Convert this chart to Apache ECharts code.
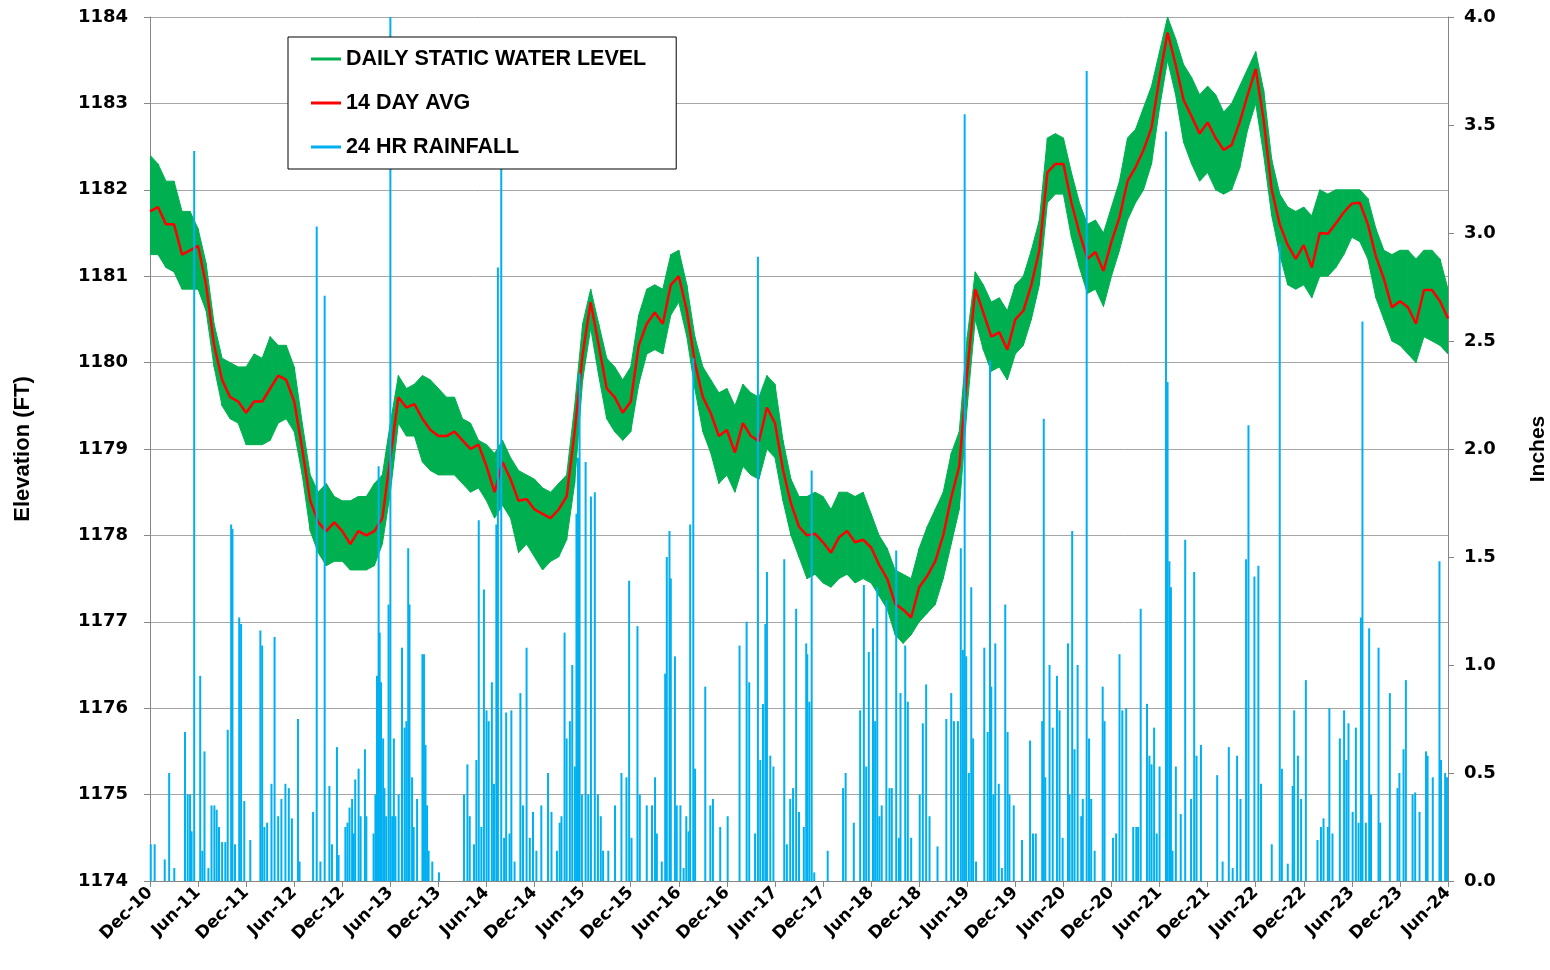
<!DOCTYPE html>
<html>
<head>
<meta charset="utf-8">
<script src="https://cdn.jsdelivr.net/npm/echarts@6/dist/echarts.min.js"></script>
<style>
  html, body { margin: 0; background: #fff; }
  #chart { width: 1550px; height: 970px; }
</style>
</head>
<body>
<div id="chart"></div>
<script>
// tick labels of the time axis, one every 6 months
const xTickLabels = [
  'Dec-10', 'Jun-11', 'Dec-11', 'Jun-12', 'Dec-12', 'Jun-13', 'Dec-13', 'Jun-14',
  'Dec-14', 'Jun-15', 'Dec-15', 'Jun-16', 'Dec-16', 'Jun-17', 'Dec-17', 'Jun-18',
  'Dec-18', 'Jun-19', 'Dec-19', 'Jun-20', 'Dec-20', 'Jun-21', 'Dec-21', 'Jun-22',
  'Dec-22', 'Jun-23', 'Dec-23', 'Jun-24'
];

// monthly readings, index 0 = Dec 2010 ... index 162 = Jun 2024
const avg14 = [
  1181.75,
  1181.8, 1181.6, 1181.6, 1181.25, 1181.3, 1181.35, 1180.9, 1180.2, 1179.8, 1179.6, 1179.55, 1179.42,
  1179.55, 1179.55, 1179.7, 1179.85, 1179.8, 1179.55, 1179.0, 1178.4, 1178.15, 1178.05, 1178.15, 1178.05,
  1177.9, 1178.05, 1178.0, 1178.05, 1178.2, 1178.9, 1179.6, 1179.48, 1179.52, 1179.35, 1179.22, 1179.15,
  1179.15, 1179.2, 1179.1, 1179.0, 1179.05, 1178.8, 1178.5, 1178.85, 1178.65, 1178.4, 1178.42, 1178.3,
  1178.25, 1178.2, 1178.3, 1178.45, 1179.2, 1180.1, 1180.7, 1180.2, 1179.7, 1179.6, 1179.42, 1179.55,
  1180.2, 1180.45, 1180.58, 1180.45, 1180.9, 1181.0, 1180.6, 1180.0, 1179.6, 1179.41, 1179.15, 1179.22,
  1178.96, 1179.3, 1179.15, 1179.09, 1179.48, 1179.3, 1178.76, 1178.37, 1178.1, 1178.0, 1178.02, 1177.92,
  1177.8, 1177.98, 1178.05, 1177.92, 1177.95, 1177.86, 1177.66, 1177.5, 1177.21, 1177.14, 1177.05, 1177.4,
  1177.53, 1177.7, 1178.0, 1178.44, 1178.8, 1179.9, 1180.85, 1180.58, 1180.3, 1180.35, 1180.15, 1180.5,
  1180.6, 1180.9, 1181.3, 1182.2, 1182.3, 1182.3, 1181.85, 1181.5, 1181.2, 1181.28, 1181.06, 1181.4,
  1181.68, 1182.1, 1182.26, 1182.46, 1182.72, 1183.3, 1183.82, 1183.45, 1183.04, 1182.85, 1182.65, 1182.78,
  1182.6, 1182.46, 1182.52, 1182.78, 1183.1, 1183.4, 1182.8, 1182.0, 1181.6, 1181.36, 1181.2, 1181.36,
  1181.1, 1181.5, 1181.49, 1181.61, 1181.74, 1181.84, 1181.85, 1181.6, 1181.23, 1180.97, 1180.64, 1180.71,
  1180.64, 1180.45, 1180.84, 1180.84, 1180.71, 1180.51
];

// top and bottom of the daily level scatter in each month
const dailyHigh = [
  1182.4,
  1182.3, 1182.1, 1182.1, 1181.75, 1181.75, 1181.55, 1181.15, 1180.45, 1180.05, 1180.0, 1179.95, 1179.95,
  1180.1, 1180.05, 1180.3, 1180.2, 1180.2, 1179.95, 1179.3, 1178.7, 1178.5, 1178.6, 1178.45, 1178.4,
  1178.4, 1178.45, 1178.45, 1178.6, 1178.7, 1179.3, 1179.85, 1179.7, 1179.75, 1179.85, 1179.8, 1179.7,
  1179.6, 1179.6, 1179.35, 1179.3, 1179.1, 1179.05, 1178.95, 1179.1, 1178.9, 1178.75, 1178.7, 1178.65,
  1178.55, 1178.5, 1178.6, 1178.7, 1179.5, 1180.45, 1180.85, 1180.45, 1180.05, 1179.95, 1179.8, 1179.95,
  1180.55, 1180.85, 1180.9, 1180.85, 1181.25, 1181.3, 1180.9, 1180.3, 1179.95, 1179.8, 1179.65, 1179.7,
  1179.5, 1179.75, 1179.65, 1179.6, 1179.85, 1179.75, 1179.1, 1178.65, 1178.45, 1178.45, 1178.5, 1178.45,
  1178.3, 1178.5, 1178.5, 1178.45, 1178.5, 1178.25, 1178.0, 1177.85, 1177.6, 1177.55, 1177.5, 1177.85,
  1178.1, 1178.3, 1178.5, 1178.95, 1179.2, 1180.3, 1181.05, 1180.9, 1180.7, 1180.75, 1180.6, 1180.9,
  1181.0, 1181.3, 1181.65, 1182.6, 1182.65, 1182.6, 1182.2, 1181.85, 1181.6, 1181.65, 1181.5, 1181.8,
  1182.1, 1182.6, 1182.7, 1182.95, 1183.2, 1183.6, 1184.0, 1183.75, 1183.45, 1183.3, 1183.1, 1183.2,
  1183.1, 1182.9, 1183.0, 1183.2, 1183.4, 1183.6, 1183.15, 1182.35, 1181.95, 1181.8, 1181.75, 1181.8,
  1181.7, 1182.0, 1181.95, 1182.0, 1182.0, 1182.0, 1182.0, 1181.9, 1181.55, 1181.3, 1181.25, 1181.3,
  1181.3, 1181.2, 1181.3, 1181.3, 1181.2, 1180.85
];
const dailyLow = [
  1181.25,
  1181.25, 1181.1, 1181.05, 1180.85, 1180.85, 1180.85, 1180.6, 1179.95, 1179.5, 1179.35, 1179.3, 1179.05,
  1179.05, 1179.05, 1179.1, 1179.3, 1179.35, 1179.2, 1178.7, 1178.05, 1177.8, 1177.65, 1177.7, 1177.7,
  1177.6, 1177.6, 1177.6, 1177.65, 1177.9, 1178.5, 1179.3, 1179.15, 1179.15, 1178.85, 1178.75, 1178.7,
  1178.7, 1178.7, 1178.6, 1178.5, 1178.55, 1178.4, 1178.2, 1178.35, 1178.2, 1177.8, 1177.9, 1177.75,
  1177.6, 1177.7, 1177.75, 1177.95, 1178.6, 1179.8, 1180.4, 1179.85, 1179.35, 1179.2, 1179.1, 1179.2,
  1179.75, 1180.1, 1180.15, 1180.1, 1180.55, 1180.7, 1180.3, 1179.7, 1179.2, 1178.95, 1178.6, 1178.7,
  1178.5, 1178.8, 1178.7, 1178.65, 1179.0, 1178.9, 1178.4, 1178.0, 1177.75, 1177.5, 1177.55, 1177.45,
  1177.4, 1177.5, 1177.55, 1177.45, 1177.5, 1177.45, 1177.3, 1177.15, 1176.85, 1176.75, 1176.85, 1177.0,
  1177.1, 1177.2, 1177.5, 1177.9, 1178.3, 1179.5, 1180.5, 1180.15, 1179.9, 1179.95, 1179.8, 1180.1,
  1180.2, 1180.5, 1180.9, 1181.85, 1181.95, 1181.95, 1181.45, 1181.1, 1180.8, 1180.85, 1180.65, 1181.0,
  1181.3, 1181.65, 1181.85, 1182.0, 1182.3, 1182.95, 1183.5, 1183.1, 1182.55, 1182.3, 1182.1, 1182.2,
  1182.0, 1181.95, 1182.0, 1182.25, 1182.7, 1183.0, 1182.4, 1181.7, 1181.25, 1180.9, 1180.85, 1180.9,
  1180.75, 1181.0, 1181.0, 1181.1, 1181.25, 1181.45, 1181.4, 1181.2, 1180.75, 1180.5, 1180.25, 1180.2,
  1180.1, 1180.0, 1180.3, 1180.25, 1180.2, 1180.1
];

// 24 hour rainfall events (inches)
const rain = [
  ['2010-12-04', 0.17], ['2010-12-19', 0.17], ['2011-01-27', 0.10], ['2011-02-12', 0.50], ['2011-03-02', 0.06],
  ['2011-04-12', 0.69], ['2011-04-22', 0.40], ['2011-05-01', 0.40], ['2011-05-07', 0.23], ['2011-05-17', 3.38],
  ['2011-06-09', 0.95], ['2011-06-17', 0.14], ['2011-06-25', 0.60], ['2011-07-10', 0.06], ['2011-07-22', 0.35],
  ['2011-08-02', 0.35], ['2011-08-11', 0.33], ['2011-08-20', 0.25], ['2011-09-01', 0.18], ['2011-09-13', 0.18],
  ['2011-09-22', 0.70], ['2011-10-05', 1.65], ['2011-10-10', 1.63], ['2011-10-20', 0.17], ['2011-11-05', 1.22],
  ['2011-11-12', 1.19], ['2011-11-24', 0.37], ['2011-12-17', 0.19], ['2012-01-25', 1.16], ['2012-02-01', 1.09],
  ['2012-02-09', 0.25], ['2012-02-19', 0.27], ['2012-03-06', 0.45], ['2012-03-18', 1.13], ['2012-04-01', 0.30],
  ['2012-04-13', 0.38], ['2012-04-28', 0.45], ['2012-05-11', 0.43], ['2012-05-23', 0.29], ['2012-06-15', 0.75],
  ['2012-06-21', 0.09], ['2012-08-12', 0.32], ['2012-08-26', 3.03], ['2012-09-09', 0.09], ['2012-09-25', 2.71],
  ['2012-10-13', 0.44], ['2012-10-23', 0.17], ['2012-11-11', 0.62], ['2012-11-17', 0.12], ['2012-12-13', 0.25],
  ['2012-12-21', 0.27], ['2012-12-29', 0.34], ['2013-01-08', 0.38], ['2013-01-14', 0.22], ['2013-01-20', 0.47],
  ['2013-02-02', 0.52], ['2013-02-09', 0.30], ['2013-02-24', 0.61], ['2013-03-01', 0.30], ['2013-03-29', 0.22],
  ['2013-04-05', 0.40], ['2013-04-11', 0.95], ['2013-04-17', 1.92], ['2013-04-21', 1.15], ['2013-04-26', 0.92],
  ['2013-05-04', 0.66], ['2013-05-09', 0.43], ['2013-05-16', 0.30], ['2013-05-25', 1.28], ['2013-06-01', 4.00],
  ['2013-06-08', 0.30], ['2013-06-14', 0.66], ['2013-06-20', 0.30], ['2013-07-02', 0.40], ['2013-07-15', 1.08],
  ['2013-07-25', 0.71], ['2013-08-01', 0.74], ['2013-08-08', 1.54], ['2013-08-13', 1.28], ['2013-08-23', 0.48],
  ['2013-08-29', 0.25], ['2013-09-11', 0.38], ['2013-10-01', 1.05], ['2013-10-07', 1.05], ['2013-10-13', 0.63],
  ['2013-10-19', 0.35], ['2013-10-25', 0.14], ['2013-11-08', 0.09], ['2013-12-03', 0.04], ['2014-03-07', 0.40],
  ['2014-03-20', 0.54], ['2014-03-29', 0.30], ['2014-04-14', 0.17], ['2014-04-23', 0.56], ['2014-05-02', 1.67],
  ['2014-05-12', 0.25], ['2014-05-22', 1.35], ['2014-06-01', 0.79], ['2014-06-09', 0.74], ['2014-06-21', 0.92],
  ['2014-06-29', 0.45], ['2014-07-08', 1.65], ['2014-07-14', 2.84], ['2014-07-27', 3.50], ['2014-08-07', 0.20],
  ['2014-08-15', 0.78], ['2014-08-28', 0.22], ['2014-09-04', 0.79], ['2014-09-16', 0.09], ['2014-10-08', 0.87],
  ['2014-10-18', 0.35], ['2014-11-01', 1.08], ['2014-11-13', 0.20], ['2014-11-25', 0.32], ['2014-12-08', 0.14],
  ['2014-12-27', 0.35], ['2015-01-22', 0.50], ['2015-02-04', 0.32], ['2015-02-23', 0.14], ['2015-03-05', 0.27],
  ['2015-03-12', 0.30], ['2015-03-24', 1.15], ['2015-04-01', 0.66], ['2015-04-13', 0.74], ['2015-04-22', 1.00],
  ['2015-05-02', 0.53], ['2015-05-08', 1.70], ['2015-05-14', 1.96], ['2015-05-20', 2.35], ['2015-05-29', 0.40],
  ['2015-06-12', 1.94], ['2015-06-22', 0.40], ['2015-07-02', 1.78], ['2015-07-17', 1.80], ['2015-07-29', 0.40],
  ['2015-08-09', 0.30], ['2015-08-18', 0.14], ['2015-09-07', 0.14], ['2015-10-02', 0.35], ['2015-10-27', 0.50],
  ['2015-11-15', 0.48], ['2015-11-25', 1.39], ['2015-12-04', 0.20], ['2015-12-27', 1.18], ['2016-01-05', 0.40],
  ['2016-02-01', 0.35], ['2016-02-20', 0.35], ['2016-03-02', 0.48], ['2016-03-09', 0.22], ['2016-03-28', 0.09],
  ['2016-04-10', 0.96], ['2016-04-16', 1.50], ['2016-04-26', 1.62], ['2016-05-01', 1.40], ['2016-05-17', 1.04],
  ['2016-05-24', 0.35], ['2016-06-07', 0.35], ['2016-06-19', 0.06], ['2016-06-29', 0.30], ['2016-07-08', 0.23],
  ['2016-07-14', 1.65], ['2016-07-26', 2.42], ['2016-08-02', 0.52], ['2016-09-10', 0.90], ['2016-09-29', 0.35],
  ['2016-10-09', 0.38], ['2016-11-06', 0.25], ['2016-12-04', 0.30], ['2017-01-19', 1.09], ['2017-02-14', 1.20],
  ['2017-02-23', 0.92], ['2017-03-17', 0.22], ['2017-03-28', 2.89], ['2017-04-06', 0.56], ['2017-04-16', 0.82],
  ['2017-04-25', 1.19], ['2017-05-01', 1.43], ['2017-05-14', 0.58], ['2017-05-26', 0.53], ['2017-07-06', 1.49],
  ['2017-07-16', 0.17], ['2017-07-29', 0.38], ['2017-08-09', 0.43], ['2017-08-21', 1.26], ['2017-09-01', 0.32],
  ['2017-09-19', 0.25], ['2017-09-28', 1.10], ['2017-10-02', 1.05], ['2017-10-10', 0.83], ['2017-10-19', 1.90],
  ['2017-10-29', 0.04], ['2017-12-19', 0.14], ['2018-02-15', 0.43], ['2018-02-24', 0.50], ['2018-03-27', 0.27],
  ['2018-04-20', 0.79], ['2018-05-04', 1.37], ['2018-05-13', 0.53], ['2018-05-23', 1.06], ['2018-06-08', 1.17],
  ['2018-06-16', 0.74], ['2018-06-24', 1.36], ['2018-07-02', 0.30], ['2018-07-11', 0.35], ['2018-07-29', 1.30],
  ['2018-08-10', 0.43], ['2018-08-19', 0.43], ['2018-09-05', 1.53], ['2018-09-15', 0.20], ['2018-09-21', 0.87],
  ['2018-10-09', 1.09], ['2018-10-19', 0.83], ['2018-11-01', 0.20], ['2018-12-03', 0.40], ['2018-12-15', 0.73],
  ['2018-12-28', 0.91], ['2019-01-10', 0.30], ['2019-02-09', 0.16], ['2019-03-13', 0.75], ['2019-04-01', 0.87],
  ['2019-04-11', 0.74], ['2019-04-26', 0.74], ['2019-05-07', 1.54], ['2019-05-15', 1.07], ['2019-05-22', 3.55],
  ['2019-05-28', 1.04], ['2019-06-07', 0.50], ['2019-06-16', 1.36], ['2019-06-23', 0.66], ['2019-07-04', 0.09],
  ['2019-08-05', 1.08], ['2019-08-18', 0.69], ['2019-08-27', 2.41], ['2019-09-01', 0.90], ['2019-09-09', 0.40],
  ['2019-09-16', 1.10], ['2019-09-29', 0.45], ['2019-10-11', 0.06], ['2019-10-24', 1.28], ['2019-11-02', 0.69],
  ['2019-11-09', 0.40], ['2019-11-25', 0.35], ['2019-12-27', 0.19], ['2020-01-27', 0.65], ['2020-02-07', 0.22],
  ['2020-02-17', 0.22], ['2020-03-12', 0.74], ['2020-03-18', 2.14], ['2020-03-24', 0.48], ['2020-04-09', 1.00],
  ['2020-04-21', 0.71], ['2020-05-07', 0.95], ['2020-05-17', 0.79], ['2020-05-29', 0.20], ['2020-06-18', 1.10],
  ['2020-06-24', 0.40], ['2020-07-04', 1.62], ['2020-07-13', 0.61], ['2020-07-25', 1.00], ['2020-08-08', 0.30],
  ['2020-08-14', 0.38], ['2020-08-29', 3.75], ['2020-09-07', 0.66], ['2020-09-15', 0.38], ['2020-09-28', 0.14],
  ['2020-10-29', 0.90], ['2020-11-05', 0.74], ['2020-12-07', 0.20], ['2020-12-19', 0.22], ['2021-01-01', 1.05],
  ['2021-01-12', 0.79], ['2021-01-27', 0.80], ['2021-02-21', 0.25], ['2021-03-04', 0.25], ['2021-03-11', 0.25],
  ['2021-03-21', 1.26], ['2021-04-14', 0.82], ['2021-04-23', 0.58], ['2021-05-01', 0.54], ['2021-05-11', 0.71],
  ['2021-05-21', 0.22], ['2021-06-01', 0.53], ['2021-06-25', 3.47], ['2021-07-01', 2.31], ['2021-07-08', 1.48],
  ['2021-07-14', 1.36], ['2021-07-20', 0.14], ['2021-08-02', 0.53], ['2021-08-21', 0.31], ['2021-09-07', 1.58],
  ['2021-09-29', 0.38], ['2021-10-11', 1.43], ['2021-10-20', 0.58], ['2021-11-06', 0.63], ['2022-01-07', 0.49],
  ['2022-01-28', 0.09], ['2022-02-19', 0.62], ['2022-03-05', 0.06], ['2022-03-22', 0.58], ['2022-04-04', 0.38],
  ['2022-04-25', 1.49], ['2022-05-04', 2.11], ['2022-05-27', 1.41], ['2022-06-11', 1.46], ['2022-06-21', 0.45],
  ['2022-08-01', 0.17], ['2022-09-01', 2.95], ['2022-09-09', 0.52], ['2022-10-01', 0.08], ['2022-10-20', 0.44],
  ['2022-10-26', 0.79], ['2022-11-09', 0.58], ['2022-11-21', 0.38], ['2022-12-09', 0.93], ['2023-01-23', 0.19],
  ['2023-02-05', 0.25], ['2023-02-14', 0.29], ['2023-03-01', 0.25], ['2023-03-07', 0.80], ['2023-03-19', 0.22],
  ['2023-04-16', 0.66], ['2023-05-02', 0.79], ['2023-05-11', 0.56], ['2023-05-19', 0.73], ['2023-06-04', 0.32],
  ['2023-06-16', 0.71], ['2023-06-26', 0.27], ['2023-07-05', 1.22], ['2023-07-11', 2.59], ['2023-07-24', 0.27],
  ['2023-08-06', 1.17], ['2023-08-13', 0.40], ['2023-09-11', 1.08], ['2023-09-17', 0.27], ['2023-10-24', 0.87],
  ['2023-11-22', 0.43], ['2023-11-29', 0.50], ['2023-12-15', 0.61], ['2023-12-24', 0.93], ['2024-01-19', 0.40],
  ['2024-01-29', 0.41], ['2024-02-14', 0.32], ['2024-03-09', 0.60], ['2024-03-15', 0.58], ['2024-04-04', 0.48],
  ['2024-04-29', 1.48], ['2024-05-05', 0.56], ['2024-05-21', 0.50], ['2024-05-28', 0.48]
];

// months since 1 Dec 2010 (x axis unit)
function monthPos(s) {
  const [y, m, d] = s.split('-').map(Number);
  const days = new Date(y, m, 0).getDate();
  return (y - 2010) * 12 + (m - 12) + (d - 1) / days;
}

const GREEN = '#00b050';
const gridColor = '#a6a6a6';
const axisGrey = '#868686';
const tickFont = { fontFamily: 'DejaVu Sans', fontWeight: 'bold', color: '#000' };

// one band piece per month: [i, high_i, low_i, high_i+1, low_i+1]
const bandData = dailyHigh.slice(0, -1).map((h, i) => [i, h, dailyLow[i], dailyHigh[i + 1], dailyLow[i + 1]]);

function renderBand(params, api) {
  const i = api.value(0);
  const pts = [
    api.coord([i, api.value(1)]),
    api.coord([i + 1, api.value(3)]),
    api.coord([i + 1, api.value(4)]),
    api.coord([i, api.value(2)]),
  ];
  return {
    type: 'polygon',
    shape: { points: pts },
    style: { fill: GREEN, stroke: GREEN, lineWidth: 1 },
  };
}

const chart = echarts.init(document.getElementById('chart'));
chart.setOption({
  animation: false,
  backgroundColor: '#fff',
  grid: { left: 150, right: 102, top: 17, bottom: 89, outerBoundsMode: 'none' },
  legend: {
    orient: 'vertical',
    left: 288,
    top: 37,
    z: 10,
    backgroundColor: '#fff',
    borderColor: '#000',
    borderWidth: 1,
    padding: [11, 30, 11, 23],
    itemGap: 22,
    icon: 'rect',
    itemWidth: 30,
    itemHeight: 3,
    textStyle: { fontFamily: 'Liberation Sans', fontWeight: 'bold', fontSize: 21.5, color: '#000' },
    data: ['DAILY STATIC WATER LEVEL', '14 DAY AVG', '24 HR RAINFALL'],
  },
  xAxis: {
    type: 'value',
    min: 0,
    max: 162,
    interval: 6,
    splitLine: { show: false },
    axisLine: { onZero: false, lineStyle: { color: axisGrey } },
    axisTick: { length: 6, lineStyle: { color: axisGrey } },
    axisLabel: {
      ...tickFont,
      fontSize: 17,
      rotate: 45,
      margin: 9,
      formatter: (v) => xTickLabels[Math.round(v / 6)],
    },
  },
  yAxis: [
    {
      type: 'value',
      min: 1174,
      max: 1184,
      interval: 1,
      name: 'Elevation (FT)',
      nameLocation: 'middle',
      nameGap: 116,
      nameTextStyle: { fontFamily: 'Liberation Sans', fontWeight: 'bold', fontSize: 22, color: '#000' },
      axisLine: { show: true, lineStyle: { color: axisGrey } },
      axisTick: { show: true, length: 6, lineStyle: { color: axisGrey } },
      axisLabel: { ...tickFont, fontSize: 18, margin: 22, formatter: (v) => String(v) },
      splitLine: { lineStyle: { color: gridColor } },
    },
    {
      type: 'value',
      min: 0,
      max: 4,
      interval: 0.5,
      position: 'right',
      name: 'Inches',
      nameLocation: 'middle',
      nameGap: 80,
      nameRotate: 90,
      nameTextStyle: { fontFamily: 'Liberation Sans', fontWeight: 'bold', fontSize: 21, color: '#000' },
      axisLine: { show: true, lineStyle: { color: axisGrey } },
      axisTick: { show: true, length: 6, lineStyle: { color: axisGrey } },
      axisLabel: { ...tickFont, fontSize: 18, margin: 16, formatter: (v) => v.toFixed(1) },
      splitLine: { show: false },
    },
  ],
  series: [
    {
      name: 'DAILY STATIC WATER LEVEL',
      type: 'custom',
      yAxisIndex: 0,
      data: bandData,
      encode: { x: 0, y: [1, 2, 3, 4] },
      renderItem: renderBand,
      color: GREEN,
      itemStyle: { color: GREEN },
      clip: true,
      z: 2,
    },
    {
      name: '14 DAY AVG',
      type: 'line',
      yAxisIndex: 0,
      data: avg14.map((v, i) => [i, v]),
      showSymbol: false,
      color: '#ff0000',
      lineStyle: { color: '#ff0000', width: 2.5 },
      z: 3,
    },
    {
      name: '24 HR RAINFALL',
      type: 'bar',
      yAxisIndex: 1,
      data: rain.map(([d, v]) => [monthPos(d), v]),
      barWidth: 2,
      color: '#00b0f0',
      itemStyle: { color: '#00b0f0' },
      z: 4,
    },
  ],
});
</script>
</body>
</html>
